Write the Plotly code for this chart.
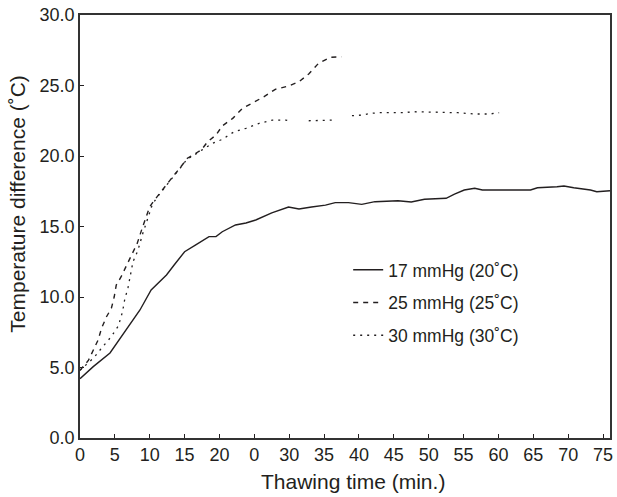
import plotly.graph_objects as go

# ---- data ----
t17 = [0, 1.9, 4.3, 5.4, 6.7, 8.6, 10.2, 12.4, 13.5, 15.0, 16.6, 18.5, 19.5, 20.4, 22.3, 23.8, 25.2,
       27.5, 29.9, 31.4, 33.2, 35.2, 36.6, 38.5, 40.4, 42.3, 45.6, 47.5, 49.4, 52.5, 53.7, 55.1, 56.6,
       57.7, 64.6, 65.6, 68.4, 69.4, 70.8, 73.2, 74.1, 76.0]
v17 = [4.2, 5.06, 6.03, 6.81, 7.66, 9.08, 10.5, 11.56, 12.27, 13.21, 13.69, 14.28, 14.28, 14.63, 15.11,
       15.25, 15.46, 15.96, 16.38, 16.24, 16.38, 16.52, 16.69, 16.69, 16.57, 16.76, 16.83, 16.74, 16.93,
       17.0, 17.3, 17.59, 17.71, 17.59, 17.59, 17.75, 17.82, 17.87, 17.75, 17.59, 17.47, 17.54]

t25 = [0, 1.2, 2.6, 3.1, 3.8, 4.5, 4.9, 5.2, 5.9, 7.1, 8.2, 9.0, 10.0, 10.5, 11.4, 12.4, 13.3, 14.3,
       15.4, 16.2, 17.4, 18.3, 19.5, 20.4, 21.9, 23.3, 24.7, 26.4, 28.0, 29.9, 31.4, 32.8, 34.2, 35.9, 37.5]
v25 = [4.8, 5.5, 6.95, 7.8, 8.6, 9.2, 10.0, 10.85, 11.44, 12.62, 13.8, 15.0, 16.4, 16.76, 17.35, 17.94,
       18.53, 19.13, 19.84, 20.07, 20.43, 21.01, 21.49, 22.13, 22.67, 23.38, 23.74, 24.21, 24.73, 24.96,
       25.27, 25.82, 26.57, 27.0, 27.04]

t30 = [0, 2.0, 3.3, 4.5, 5.5, 6.1, 6.4, 6.9, 7.6, 8.3, 9.0, 9.7, 10.4, 11.4, 12.4, 13.3, 14.3, 15.4,
       16.2, 17.4, 19.0, 20.4, 22.1, 23.8, 25.7, 27.6, 29.5, 30.2, None, 32.8, 36.4, None, 39.0, 40.4,
       41.7, 43.0, 46.3, 47.8, 54.2, 56.6, 58.8, 60.1]
v30 = [4.8, 5.7, 6.5, 7.2, 7.95, 8.96, 9.79, 10.7, 12.5, 13.3, 14.5, 15.6, 16.6, 17.3, 17.9, 18.5, 19.1,
       19.8, 20.0, 20.4, 20.9, 21.18, 21.72, 21.96, 22.32, 22.55, 22.55, 22.48, None, 22.5, 22.55, None,
       22.86, 22.9, 23.03, 23.07, 23.07, 23.14, 23.07, 22.98, 22.98, 23.07]

series_names = ["17 mmHg (20˚C)", "25 mmHg (25˚C)", "30 mmHg (30˚C)"]

x_tickvals = [0, 5, 10, 15, 20, 25, 30, 35, 40, 45, 50, 55, 60, 65, 70, 75]
x_ticktext = ["0", "5", "10", "15", "20", "0", "30", "35", "40", "45", "50", "55", "60", "65", "70", "75"]
y_tickvals = [0, 5, 10, 15, 20, 25, 30]
y_ticktext = ["0.0", "5.0", "10.0", "15.0", "20.0", "25.0", "30.0"]

x_title = "Thawing time (min.)"
y_title = "Temperature difference (˚C)"

# ---- figure ----
ink = "#231f20"
fig = go.Figure()
fig.add_trace(go.Scatter(x=t17, y=v17, mode="lines", name=series_names[0], legendgroup="a",
                         line=dict(color=ink, width=1.4)))
fig.add_trace(go.Scatter(x=t25, y=v25, mode="lines", name=series_names[1], legendgroup="b",
                         line=dict(color=ink, width=1.4, dash="5px,5px")))
fig.add_trace(go.Scatter(x=t30, y=v30, mode="lines", name=series_names[2], legendgroup="c",
                         line=dict(color=ink, width=1.3, dash="2px,5px")))

fig.update_layout(
    width=617, height=497,
    margin=dict(l=80, r=4, t=15, b=59),
    paper_bgcolor="white", plot_bgcolor="white",
    font=dict(family="Liberation Sans, Arial, sans-serif", color=ink, size=18),
    showlegend=True,
    legend=dict(x=0.506, y=0.44, xanchor="left", yanchor="top", bgcolor="rgba(0,0,0,0)",
                font=dict(size=17.5), tracegroupgap=7),
    annotations=[
        dict(text=y_title, textangle=-90, xref="paper", yref="paper",
             x=-0.118, y=0.555, xanchor="center", yanchor="middle", showarrow=False,
             font=dict(size=21)),
        dict(text=x_title, xref="paper", yref="paper",
             x=0.515, y=-0.102, xanchor="center", yanchor="middle", showarrow=False,
             font=dict(size=21)),
    ],
)
fig.update_xaxes(range=[0, 76], tickmode="array", tickvals=x_tickvals, ticktext=x_ticktext,
                 ticks="inside", ticklen=4, tickcolor=ink, showgrid=False, zeroline=False,
                 showline=True, linecolor="#333", linewidth=1.5, mirror=True)
fig.update_yaxes(range=[0, 30], tickmode="array", tickvals=y_tickvals, ticktext=y_ticktext,
                 ticks="inside", ticklen=4, tickcolor=ink, showgrid=False, zeroline=False,
                 showline=True, linecolor="#333", linewidth=1.5, mirror=True)

fig.write_html("out.html")
